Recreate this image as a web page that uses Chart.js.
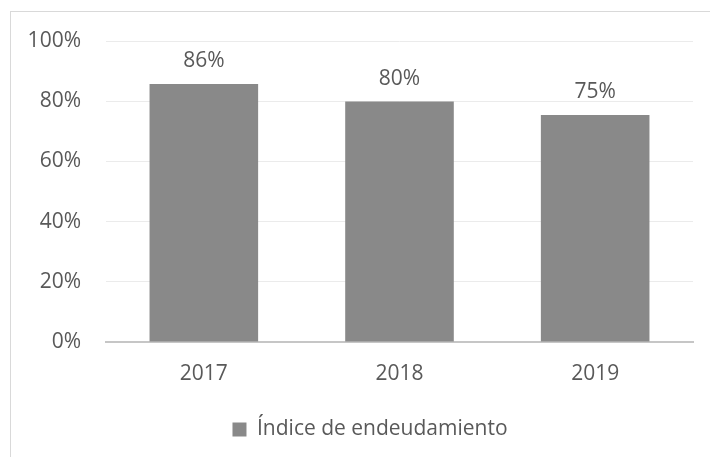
<!DOCTYPE html>
<html>
<head>
<meta charset="utf-8">
<script src="https://cdn.jsdelivr.net/npm/chart.js@4"></script>
<style>
  html, body { margin: 0; padding: 0; background: #fff; overflow: hidden; }
  #frame { position: absolute; left: 10px; top: 11px; width: 900px; height: 700px; border: 1px solid #d9d9d9; }
  #wrap { position: absolute; left: 0; top: 0; width: 740px; height: 457px; }
</style>
</head>
<body>
<div id="frame"></div>
<div id="wrap"><canvas id="debtChart" width="740" height="457"></canvas></div>
<script>
// datos del gráfico
const years = ["2017", "2018", "2019"];
const debtRatio = [0.857, 0.799, 0.754];
const seriesName = "Índice de endeudamiento";

const textColor = "#595959";
const barColor = "#898989";
const fontFamily = "'Open Sans', sans-serif";
const fontSize = 21;

// etiquetas encima de las barras
const barLabels = {
  id: "barLabels",
  afterDatasetsDraw(chart) {
    const { ctx } = chart;
    const meta = chart.getDatasetMeta(0);
    ctx.save();
    ctx.font = `${fontSize}px ${fontFamily}`;
    ctx.fillStyle = textColor;
    ctx.textAlign = "center";
    ctx.textBaseline = "alphabetic";
    meta.data.forEach((bar, i) => {
      ctx.fillText(Math.round(debtRatio[i] * 100) + "%", bar.x, bar.y - 17);
    });
    ctx.restore();
  },
};

new Chart(document.getElementById("debtChart"), {
  type: "bar",
  data: {
    labels: years,
    datasets: [
      {
        label: seriesName,
        data: debtRatio,
        backgroundColor: barColor,
        barPercentage: 0.555,
        categoryPercentage: 1,
      },
    ],
  },
  options: {
    responsive: false,
    animation: false,
    layout: { padding: { left: 0, right: 0, top: 41, bottom: 7 } },
    plugins: {
      tooltip: { enabled: false },
      legend: {
        position: "bottom",
        labels: {
          color: textColor,
          font: { family: fontFamily, size: fontSize },
          boxWidth: 14,
          boxHeight: 14,
          padding: 10,
        },
      },
    },
    scales: {
      x: {
        afterFit: (scale) => { scale.height = 67; },
        grid: { display: false, drawTicks: false },
        border: { display: true, color: "#c6c6c6", width: 2 },
        ticks: { color: textColor, font: { family: fontFamily, size: fontSize }, padding: 19 },
      },
      y: {
        min: 0,
        max: 1,
        afterFit: (scale) => { scale.width = 106; },
        border: { display: false },
        grid: {
          drawTicks: false,
          color: (c) => (c.tick && c.tick.value === 0 ? "rgba(0,0,0,0)" : "#ebebeb"),
        },
        ticks: {
          stepSize: 0.2,
          padding: 25,
          color: textColor,
          font: { family: fontFamily, size: fontSize },
          callback: (v) => Math.round(v * 100) + "%",
        },
      },
      // eje vacío a la derecha, solo para dejar margen
      yRight: {
        position: "right",
        afterFit: (scale) => { scale.width = 47; },
        grid: { display: false, drawTicks: false },
        border: { display: false },
        ticks: { display: false },
      },
    },
  },
  plugins: [barLabels],
});
</script>
</body>
</html>
